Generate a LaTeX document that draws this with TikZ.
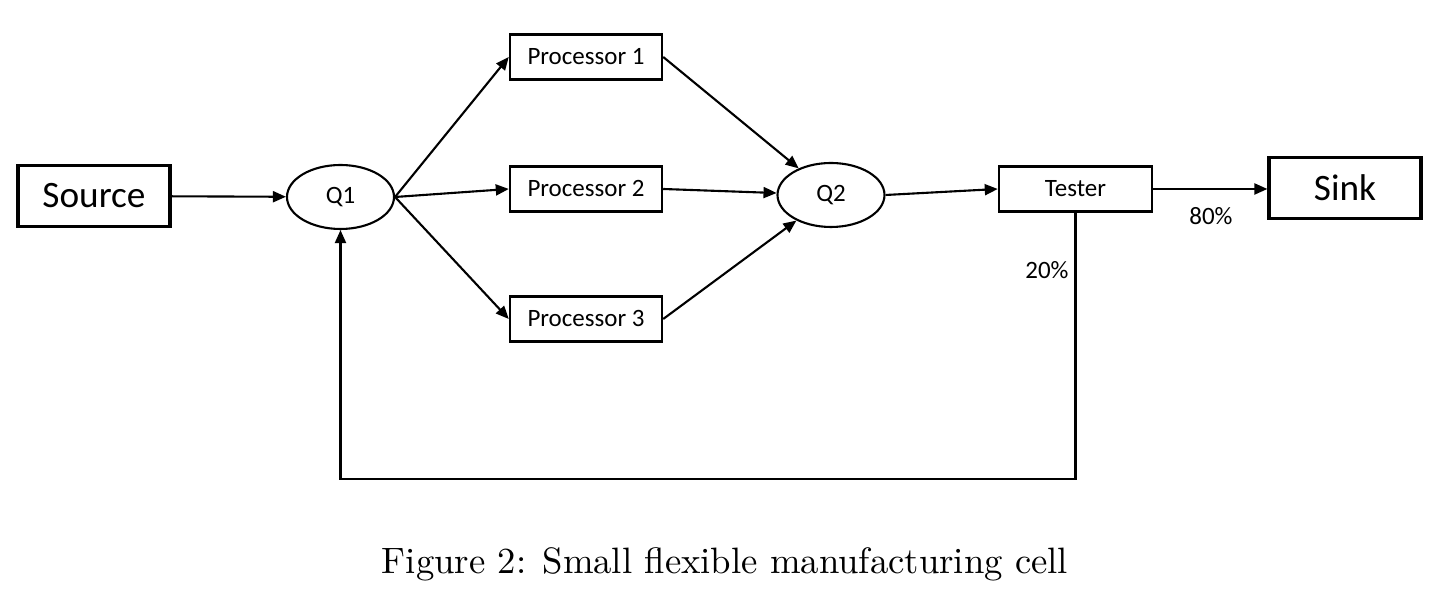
\documentclass[tikz,border=0pt]{standalone}
\usepackage{fontspec}
\newfontfamily\calibri{Carlito}
\usetikzlibrary{shapes.geometric,arrows.meta}
\tikzset{
  blok/.style={draw,line width=0.7pt,inner sep=0pt,minimum width=1.52cm,minimum height=0.45cm,font=\calibri\fontsize{7.1}{8}\selectfont},
  bigblok/.style={blok,line width=0.9pt,minimum height=0.61cm,font=\calibri\fontsize{10.6}{12}\selectfont},
  ochered/.style={draw,ellipse,line width=0.6pt,inner sep=0pt,minimum width=1.07cm,minimum height=0.64cm,font=\calibri\fontsize{7.1}{8}\selectfont},
  strelka/.style={line width=0.6pt,-{Triangle[length=1.3mm,width=1.1mm]}},
  metka/.style={font=\calibri\fontsize{7.1}{8}\selectfont}
}
\begin{document}
\begin{tikzpicture}
    \useasboundingbox (0,0) rectangle (14.42,5.98);
    % Узлы
    \node[bigblok] (source) at (0.94,4.02) {Source};
    \node[ochered] (q1) at (3.405,4.01) {Q1};
    \node[blok] (proc1) at (5.86,5.41) {Processor 1};
    \node[blok] (proc2) at (5.86,4.09) {Processor 2};
    \node[blok] (proc3) at (5.86,2.79) {Processor 3};
    \node[ochered] (q2) at (8.31,4.03) {Q2};
    \node[blok,minimum width=1.53cm] (tester) at (10.755,4.09) {Tester};
    \node[bigblok] (sink) at (13.45,4.10) {Sink};
    \coordinate (back) at (3.405,1.19);
    % Стрелки
    \draw[strelka] (source) -- (q1);
    \foreach \i in {1,2,3}{
      \draw[strelka] (q1.east) -- (proc\i.west);
      \draw[strelka] (proc\i.east) -- (q2);}
    \draw[strelka] (q2.east) -- (tester.west);
    \draw[strelka] (tester.east) -- (sink.west |- tester.east);
    \draw[strelka] (tester.south) -- (tester.south |- back) -| (q1.south);
    \node[metka] (p80) at (12.11,3.82) {80\%};
    \node[metka] (p20) at (10.47,3.28) {20\%};
    % Подпись
    \node[font=\fontsize{10.45}{12}\selectfont] (caption) at (7.25,0.34) {Figure 2: Small flexible manufacturing cell};
\end{tikzpicture}
\end{document}
